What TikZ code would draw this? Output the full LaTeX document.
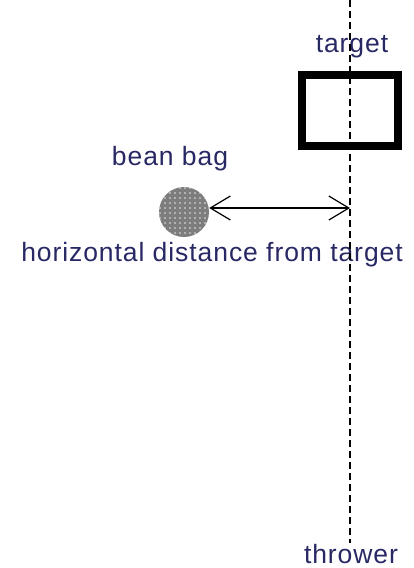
\documentclass[tikz,border=0pt]{standalone}
\usepackage{fontspec}
\setmainfont{Liberation Sans}[LetterSpace=3.5]
\usetikzlibrary{arrows.meta}
\usetikzlibrary{patterns.meta}
\usetikzlibrary{positioning}
\definecolor{labelblue}{RGB}{40,40,100}
\definecolor{baggray}{RGB}{125,125,125}

\begin{document}
\begin{tikzpicture}[x=1pt,y=-1pt]
  \tikzset{lbl/.style={text=labelblue,inner sep=0pt,anchor=base,font=\fontsize{26.5}{30}\selectfont},
           aimline/.style={dashed,line width=1.6pt,dash pattern=on 7pt off 4pt},
           targetbox/.style={draw=black,line width=8pt,minimum width=96pt,minimum height=71pt,inner sep=0pt},
           bag/.style={circle,minimum size=50pt,inner sep=0pt,fill=baggray,
                       postaction={pattern={Dots[distance=5pt,radius=0.9pt]},pattern color=white!80!baggray}},
           gap/.style={{Straight Barb[length=20pt,width=24pt,line width=1.2pt]}-{Straight Barb[length=20pt,width=24pt,line width=1.2pt]},line width=1.3pt}}
  \useasboundingbox (0,0) rectangle (414,568);

  \coordinate (top) at (350,0);
  \node[targetbox] (target) at (350,110.5) {};
  \node[lbl] (targetlbl) at (352,52) {target};
  \node[bag] (bean) at (184,212) {};
  \node[lbl] (beanlbl) at (170,165) {bean bag};
  \coordinate (aim) at (350,208);
  \node[lbl] (distlbl) at (212,261) {horizontal distance from target};
  \node[lbl] (thrower) at (351,563) {thrower};

  \draw[aimline] (top) -- (350,543);
  \draw[gap] (bean.east |- aim) -- (aim);
\end{tikzpicture}
\end{document}
